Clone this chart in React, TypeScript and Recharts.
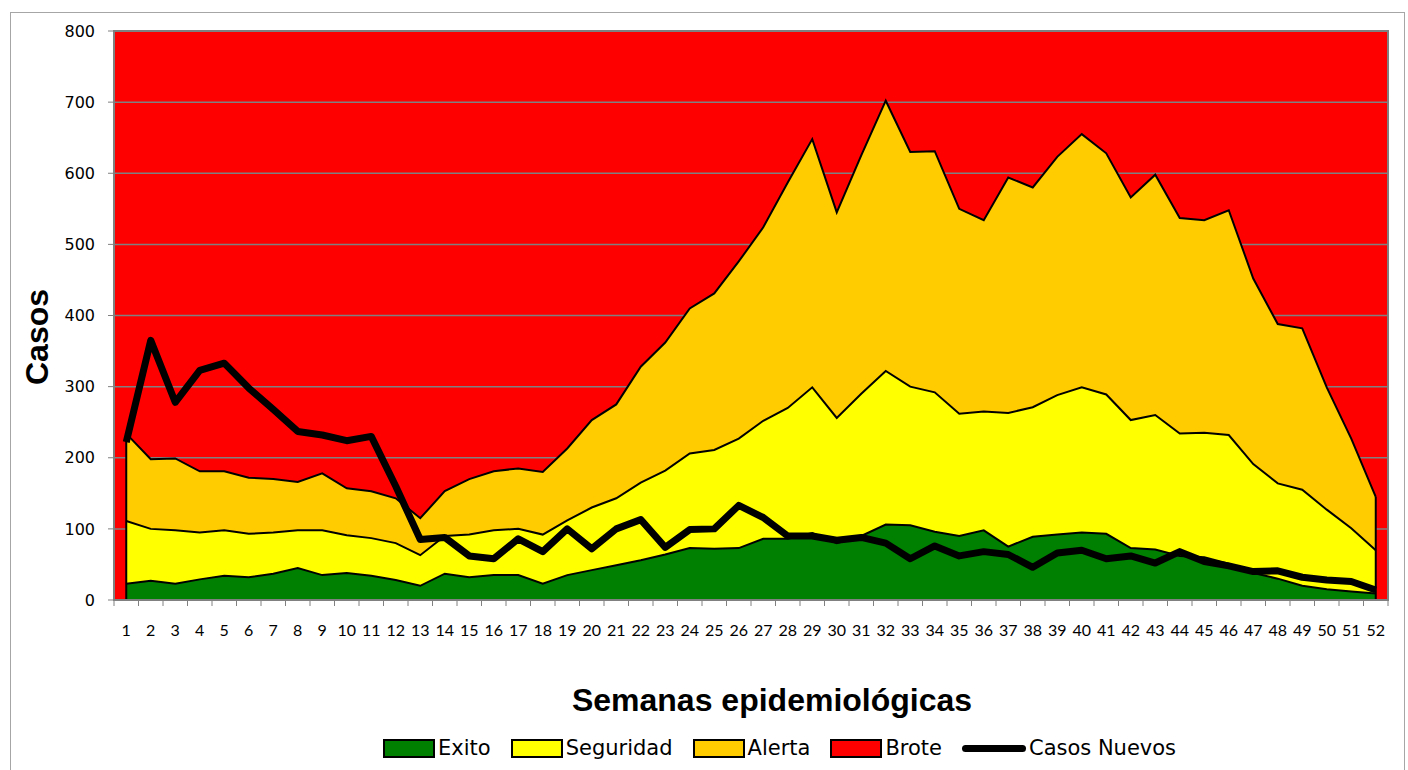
import React from 'react';
import { ComposedChart, XAxis, YAxis, CartesianGrid, Area, Line, ReferenceLine, ReferenceArea } from 'recharts';

const weeks = [
  1, 2, 3, 4, 5, 6, 7, 8, 9, 10, 11, 12, 13, 14, 15, 16, 17, 18, 19, 20, 21, 22, 23, 24, 25, 26,
  27, 28, 29, 30, 31, 32, 33, 34, 35, 36, 37, 38, 39, 40, 41, 42, 43, 44, 45, 46, 47, 48, 49, 50, 51, 52,
];

const exito = [
  23, 27, 23, 29, 34, 32, 37, 45, 35, 38, 34, 28, 20, 37, 32, 35, 35, 23, 35, 42, 49, 56, 64, 73, 72, 73,
  86, 86, 94, 80, 90, 106, 105, 96, 90, 98, 75, 89, 92, 95, 93, 73, 71, 62, 60, 51, 38, 30, 20, 15, 12, 9,
];

const seguridad = [
  111, 100, 98, 95, 98, 93, 95, 98, 98, 91, 87, 80, 63, 90, 92, 98, 100, 92, 112, 130, 143, 165, 182, 206, 211, 227,
  252, 270, 299, 256, 290, 322, 300, 292, 262, 265, 263, 271, 288, 299, 289, 253, 260, 234, 235, 232, 191, 164, 155, 127, 101, 70,
];

const alerta = [
  234, 198, 199, 181, 181, 172, 170, 166, 178, 157, 153, 143, 115, 153, 170, 181, 185, 180, 213, 253, 275, 328, 362, 410, 431, 476,
  524, 587, 648, 545, 625, 702, 630, 631, 550, 534, 594, 580, 623, 655, 628, 566, 598, 537, 534, 548, 452, 388, 382, 299, 227, 145,
];

const casosNuevos = [
  222, 365, 278, 323, 333, 298, 268, 237, 232, 224, 230, 160, 85, 88, 62, 58, 86, 68, 100, 72, 100, 113, 74, 99, 100, 133,
  116, 90, 90, 84, 88, 80, 58, 76, 62, 68, 64, 46, 66, 70, 58, 62, 52, 68, 54, 48, 40, 41, 32, 28, 26, 14,
];

const yTicks = [0, 100, 200, 300, 400, 500, 600, 700, 800];

const legendItems = [
  { name: 'Exito', color: '#008000', kind: 'box' },
  { name: 'Seguridad', color: '#FFFF00', kind: 'box' },
  { name: 'Alerta', color: '#FFCC00', kind: 'box' },
  { name: 'Brote', color: '#FF0000', kind: 'box' },
  { name: 'Casos Nuevos', color: '#000000', kind: 'line' },
];

const data = weeks.map((w, i) => ({
  week: w,
  exito: exito[i],
  seguridad: seguridad[i],
  alerta: alerta[i],
  casos: casosNuevos[i],
}));

// tick marks sit between the weeks, like the original
const bandEdges = [...weeks.map((w) => w - 0.5), weeks[weeks.length - 1] + 0.5];

const first = weeks[0];
const last = weeks[weeks.length - 1];

const NoLabel = () => <g />;

export default function App() {
  return (
    <div style={{ position: 'absolute', left: 0, top: 0, width: 1408, height: 770, background: '#fff', overflow: 'hidden' }}>
      <div style={{ position: 'absolute', left: 10, top: 12, width: 1393, height: 800, border: '1px solid #a6a6a6' }} />
      <ComposedChart
        width={1408}
        height={770}
        data={data}
        margin={{ top: 31, right: 20, left: 54, bottom: 139 }}
        style={{ position: 'absolute', left: 0, top: 0 }}
      >
        <CartesianGrid horizontal vertical={false} fill="#FF0000" fillOpacity={1} stroke="#808080" strokeWidth={1.5} />
        <XAxis
          dataKey="week"
          type="number"
          domain={[0.5, 52.5]}
          ticks={bandEdges}
          interval={0}
          tick={<NoLabel />}
          tickSize={6}
          tickLine={{ stroke: '#808080' }}
          axisLine={{ stroke: '#808080', strokeWidth: 2 }}
          height={1}
        />
        <XAxis
          xAxisId="labels"
          dataKey="week"
          type="number"
          domain={[0.5, 52.5]}
          ticks={weeks}
          interval={0}
          tickLine={false}
          axisLine={false}
          tickMargin={18}
          tick={{ fill: '#000', fontSize: 16, fontFamily: 'Lato' }}
          height={30}
        />
        <YAxis
          domain={[0, 800]}
          ticks={yTicks}
          interval={0}
          width={60}
          tickSize={6}
          tickMargin={13}
          tickLine={{ stroke: '#808080' }}
          axisLine={{ stroke: '#808080', strokeWidth: 2 }}
          tick={{ fill: '#000', fontSize: 16, fontFamily: 'DejaVu Sans' }}
        />
        <Area type="linear" dataKey="alerta" fill="#FFCC00" fillOpacity={1} stroke="#000" strokeWidth={2} isAnimationActive={false} />
        <Area type="linear" dataKey="seguridad" fill="#FFFF00" fillOpacity={1} stroke="#000" strokeWidth={2} isAnimationActive={false} />
        <Area type="linear" dataKey="exito" fill="#008000" fillOpacity={1} stroke="#000" strokeWidth={2} isAnimationActive={false} />
        <ReferenceLine segment={[{ x: first, y: 0 }, { x: first, y: alerta[0] }]} stroke="#000" strokeWidth={2} />
        <ReferenceLine segment={[{ x: last, y: 0 }, { x: last, y: alerta[alerta.length - 1] }]} stroke="#000" strokeWidth={2} />
        <ReferenceArea x1={0.5} x2={52.5} y1={0} y2={800} fill="none" stroke="#808080" strokeWidth={2} />
        <Line
          type="linear"
          dataKey="casos"
          stroke="#000"
          strokeWidth={7}
          strokeLinejoin="round"
          dot={false}
          isAnimationActive={false}
        />
      </ComposedChart>
      <div
        style={{
          position: 'absolute',
          left: 37,
          top: 337,
          transform: 'translate(-50%, -50%) rotate(-90deg)',
          fontFamily: 'Liberation Sans, Arial, sans-serif',
          fontWeight: 'bold',
          fontSize: 32,
          whiteSpace: 'nowrap',
        }}
      >
        Casos
      </div>
      <div
        style={{
          position: 'absolute',
          left: 772,
          top: 700,
          transform: 'translate(-50%, -50%)',
          fontFamily: 'Liberation Sans, Arial, sans-serif',
          fontWeight: 'bold',
          fontSize: 32,
          whiteSpace: 'nowrap',
        }}
      >
        Semanas epidemiológicas
      </div>
      <div
        style={{
          position: 'absolute',
          left: 383,
          top: 736,
          width: 820,
          display: 'flex',
          alignItems: 'center',
          fontFamily: 'DejaVu Sans, sans-serif',
          fontSize: 21,
          whiteSpace: 'nowrap',
        }}
      >
        {legendItems.map((it) => (
          <div key={it.name} style={{ display: 'flex', alignItems: 'center', marginRight: 20 }}>
            {it.kind === 'box' ? (
              <span style={{ display: 'inline-block', width: 48, height: 15, background: it.color, border: '2px solid #000', marginRight: 3 }} />
            ) : (
              <span style={{ display: 'inline-block', width: 64, height: 7, background: it.color, borderRadius: 4, marginRight: 3 }} />
            )}
            <span>{it.name}</span>
          </div>
        ))}
      </div>
    </div>
  );
}
